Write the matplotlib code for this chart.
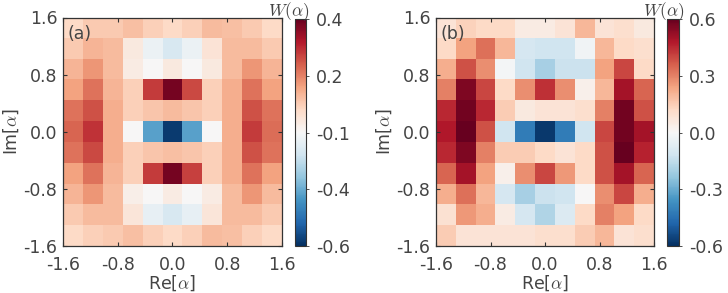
import matplotlib
matplotlib.use("Agg")
import matplotlib.pyplot as plt
import numpy as np

plt.rcParams["axes.unicode_minus"] = False
plt.rcParams["font.family"] = "DejaVu Sans"
plt.rcParams["mathtext.fontset"] = "cm"

TEXT_COLOR = "#444444"
EXTENT = [-1.6, 1.6, -1.6, 1.6]
AXIS_TICKS = [-1.6, -0.8, 0.0, 0.8, 1.6]
AXIS_TICK_LABELS = ["-1.6", "-0.8", "0.0", "0.8", "1.6"]

# Wigner function samples, rows from Im = +1.6 (top) to -1.6 (bottom)
wigner_a = [
    [0.00, 0.03, 0.03, 0.05, 0.02, 0.00, 0.02, 0.06, 0.05, 0.03, 0.00],
    [0.03, 0.07, 0.06, -0.05, -0.13, -0.18, -0.13, -0.03, 0.06, 0.06, 0.03],
    [0.07, 0.12, 0.06, -0.06, -0.10, -0.05, -0.10, -0.05, 0.06, 0.12, 0.07],
    [0.10, 0.17, 0.07, 0.02, 0.25, 0.38, 0.23, 0.02, 0.08, 0.17, 0.10],
    [0.17, 0.22, 0.08, 0.02, 0.04, 0.06, 0.04, 0.02, 0.08, 0.22, 0.17],
    [0.19, 0.26, 0.08, -0.10, -0.37, -0.58, -0.37, -0.10, 0.08, 0.25, 0.18],
    [0.17, 0.23, 0.08, 0.02, 0.04, 0.05, 0.04, 0.02, 0.08, 0.22, 0.17],
    [0.10, 0.17, 0.07, 0.02, 0.25, 0.38, 0.24, 0.02, 0.08, 0.17, 0.10],
    [0.07, 0.12, 0.06, -0.07, -0.10, -0.06, -0.10, -0.06, 0.06, 0.12, 0.06],
    [0.03, 0.06, 0.06, -0.04, -0.14, -0.18, -0.14, -0.04, 0.06, 0.06, 0.03],
    [0.00, 0.02, 0.03, 0.05, 0.02, 0.00, 0.02, 0.06, 0.05, 0.02, 0.00],
]
wigner_b = [
    [0.08, 0.14, 0.12, 0.12, 0.05, 0.05, 0.08, 0.20, 0.08, 0.10, 0.06],
    [0.12, 0.24, 0.33, 0.20, -0.10, -0.12, -0.12, -0.02, 0.20, 0.12, 0.10],
    [0.22, 0.38, 0.28, -0.01, -0.12, -0.20, -0.13, -0.13, 0.24, 0.40, 0.12],
    [0.30, 0.56, 0.40, 0.12, 0.28, 0.44, 0.28, 0.03, 0.20, 0.50, 0.35],
    [0.45, 0.58, 0.45, 0.15, 0.06, 0.08, 0.08, 0.10, 0.30, 0.58, 0.38],
    [0.48, 0.60, 0.38, -0.12, -0.42, -0.58, -0.42, -0.12, 0.40, 0.58, 0.50],
    [0.45, 0.56, 0.30, 0.15, 0.15, 0.12, 0.08, 0.12, 0.38, 0.60, 0.46],
    [0.35, 0.50, 0.24, 0.03, 0.28, 0.40, 0.26, 0.12, 0.38, 0.50, 0.35],
    [0.22, 0.33, 0.20, -0.10, -0.20, -0.13, -0.12, 0.00, 0.28, 0.40, 0.22],
    [0.09, 0.26, 0.22, 0.05, -0.10, -0.18, -0.08, 0.12, 0.30, 0.24, 0.12],
    [0.15, 0.08, 0.08, 0.08, 0.08, 0.10, 0.10, 0.15, 0.20, 0.08, 0.10],
]

cbar_ticks_a = [-0.6, -0.35, -0.1, 0.15, 0.4]
cbar_labels_a = ["-0.6", "-0.4", "-0.1", "0.2", "0.4"]
cbar_ticks_b = [-0.6, -0.3, 0.0, 0.3, 0.6]
cbar_labels_b = ["-0.6", "-0.3", "0.0", "0.3", "0.6"]

W, H = 728, 293


def px_rect(left, top, right, bottom):
    return [left / W, 1 - bottom / H, (right - left) / W, (bottom - top) / H]


def draw_panel(fig, data, vmin, vmax, ticks, labels, tag, ax_rect, cb_rect, title_x):
    ax = fig.add_axes(px_rect(*ax_rect))
    cax = fig.add_axes(px_rect(*cb_rect))
    im = ax.imshow(np.array(data), cmap="RdBu_r", vmin=vmin, vmax=vmax,
                   extent=EXTENT, aspect="auto", interpolation="nearest")
    ax.set_xticks(AXIS_TICKS)
    ax.set_xticklabels(AXIS_TICK_LABELS)
    ax.set_yticks(AXIS_TICKS)
    ax.set_yticklabels(AXIS_TICK_LABELS)
    ax.tick_params(direction="in", length=3, width=0.8, top=True, right=True,
                   labelsize=12.5, labelcolor=TEXT_COLOR, color="#333333")
    ax.tick_params(axis="x", pad=7)
    ax.tick_params(axis="y", pad=4)
    for s in ax.spines.values():
        s.set_color("#333333")
        s.set_linewidth(0.9)
    ax.set_xlabel(r"Re[$\alpha$]", fontsize=12.5, color=TEXT_COLOR, labelpad=0)
    ax.set_ylabel(r"Im[$\alpha$]", fontsize=12.5, color=TEXT_COLOR, labelpad=2)
    ax.text(0.02, 0.965, tag, transform=ax.transAxes, ha="left", va="top",
            fontsize=12.5, color=TEXT_COLOR)

    cb = fig.colorbar(im, cax=cax, ticks=ticks)
    cb.ax.set_yticklabels(labels)
    cb.ax.tick_params(labelsize=12.5, labelcolor=TEXT_COLOR, length=2,
                      width=0.6, pad=5, color="#333333")
    cb.outline.set_edgecolor("#333333")
    cb.outline.set_linewidth(0.8)
    fig.text(title_x / W, 0.998, r"$W(\alpha)$", ha="center",
             va="top", fontsize=12.5, color=TEXT_COLOR)
    return ax


fig = plt.figure(figsize=(W / 100, H / 100), dpi=100)
draw_panel(fig, wigner_a, -0.6, 0.4, cbar_ticks_a, cbar_labels_a, "(a)",
           (63, 17.5, 282, 246), (295, 19, 306, 246), 289)
draw_panel(fig, wigner_b, -0.6, 0.6, cbar_ticks_b, cbar_labels_b, "(b)",
           (436, 17.5, 654, 246), (667, 19, 679, 246), 664)
fig.savefig("out.png", dpi=100)
